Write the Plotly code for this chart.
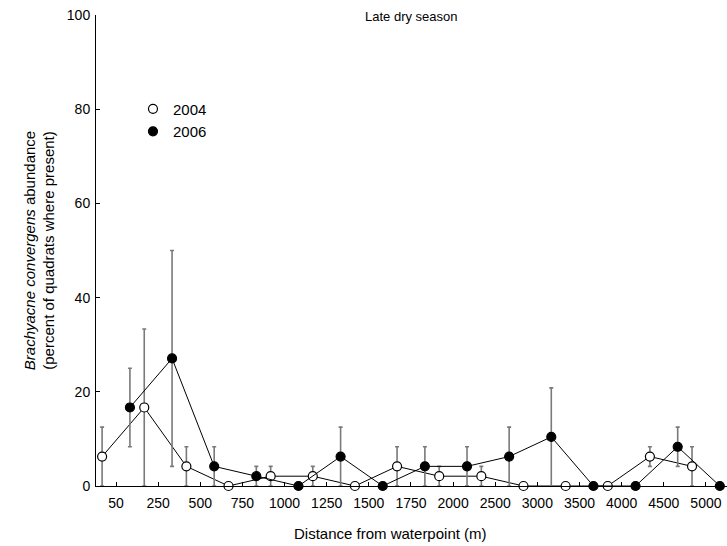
import numpy as np
import plotly.graph_objects as go

# Distance classes from the waterpoint (m)
distance_labels = ["50", "250", "500", "750", "1000", "1250", "1500", "1750",
                   "2000", "2500", "3000", "3500", "4000", "4500", "5000"]

# Mean abundance (% of quadrats where present) and standard error
abund_2004 = [6.25, 16.67, 4.17, 0, 2.08, 2.08, 0, 4.17, 2.08, 2.08, 0, 0, 0, 6.25, 4.17]
se_2004 = [6.25, 16.67, 4.17, 0, 2.08, 2.08, 0, 4.17, 2.08, 2.08, 0, 0, 0, 2.08, 4.17]

abund_2006 = [16.67, 27.08, 4.17, 2.08, 0, 6.25, 0, 4.17, 4.17, 6.25, 10.42, 0, 0, 8.33, 0]
se_2006 = [8.33, 22.92, 4.17, 2.08, 0, 6.25, 0, 4.17, 4.17, 6.25, 10.42, 0, 0, 4.17, 0]

idx = np.arange(len(distance_labels))
dodge = 0.33

FONT = "Liberation Sans, Arial, sans-serif"

err_style = dict(type="data", visible=True, color="#7a7a7a", thickness=1.6, width=2)
open_marker = dict(symbol="circle", size=9, color="white", line=dict(color="black", width=1.2))
filled_marker = dict(symbol="circle", size=9, color="black", line=dict(color="black", width=1.2))

fig = go.Figure()

# Data series (connected means with SE bars)
fig.add_trace(go.Scatter(
    x=idx - dodge, y=abund_2004, name="2004", mode="lines+markers",
    line=dict(color="black", width=1), marker=open_marker,
    error_y=dict(array=se_2004, **err_style),
    cliponaxis=False, showlegend=False,
))
fig.add_trace(go.Scatter(
    x=idx + dodge, y=abund_2006, name="2006", mode="lines+markers",
    line=dict(color="black", width=1), marker=filled_marker,
    error_y=dict(array=se_2006, **err_style),
    cliponaxis=False, showlegend=False,
))

# Legend entries show the marker only
fig.add_trace(go.Scatter(x=[None], y=[None], name="2004", mode="markers", marker=open_marker))
fig.add_trace(go.Scatter(x=[None], y=[None], name="2006", mode="markers", marker=filled_marker))

fig.add_annotation(
    text="Late dry season", xref="paper", yref="paper", x=0.5, y=0.996,
    xanchor="center", yanchor="middle", showarrow=False,
    font=dict(family=FONT, size=13, color="black"),
)

# x-axis title, set slightly left of the plot centre
fig.add_annotation(
    text="Distance from waterpoint (m)", xref="paper", yref="paper",
    x=0.4675, y=-0.0998, xanchor="center", yanchor="middle", showarrow=False,
    font=dict(family=FONT, size=15, color="black"),
)

fig.update_layout(
    width=727, height=546,
    margin=dict(l=96, r=0, t=15, b=60),
    paper_bgcolor="white", plot_bgcolor="white",
    font=dict(family=FONT, size=14, color="black"),
    showlegend=True,
    legend=dict(
        x=0.0586, y=0.777, xanchor="left", yanchor="middle",
        bgcolor="rgba(0,0,0,0)", font=dict(size=15),
        itemwidth=30, tracegroupgap=0,
    ),
    xaxis=dict(
        range=[-0.475, 14.5],
        tickmode="array", tickvals=idx, ticktext=distance_labels,
        showline=True, linecolor="black", linewidth=1,
        ticks="inside", ticklen=4, tickcolor="black",
        ticklabelstandoff=4, tickfont=dict(size=14),
        showgrid=False, zeroline=False,
    ),
    yaxis=dict(
        range=[0, 100],
        tickmode="array", tickvals=[0, 20, 40, 60, 80, 100],
        showline=True, linecolor="black", linewidth=1,
        ticks="inside", ticklen=4, tickcolor="black",
        ticklabelstandoff=2, tickfont=dict(size=14),
        showgrid=False, zeroline=False,
        title=dict(text="<i>Brachyacne convergens</i> abundance<br>(percent of quadrats where present)",
                   standoff=8, font=dict(size=15)),
    ),
)

fig.write_html("out.html")
